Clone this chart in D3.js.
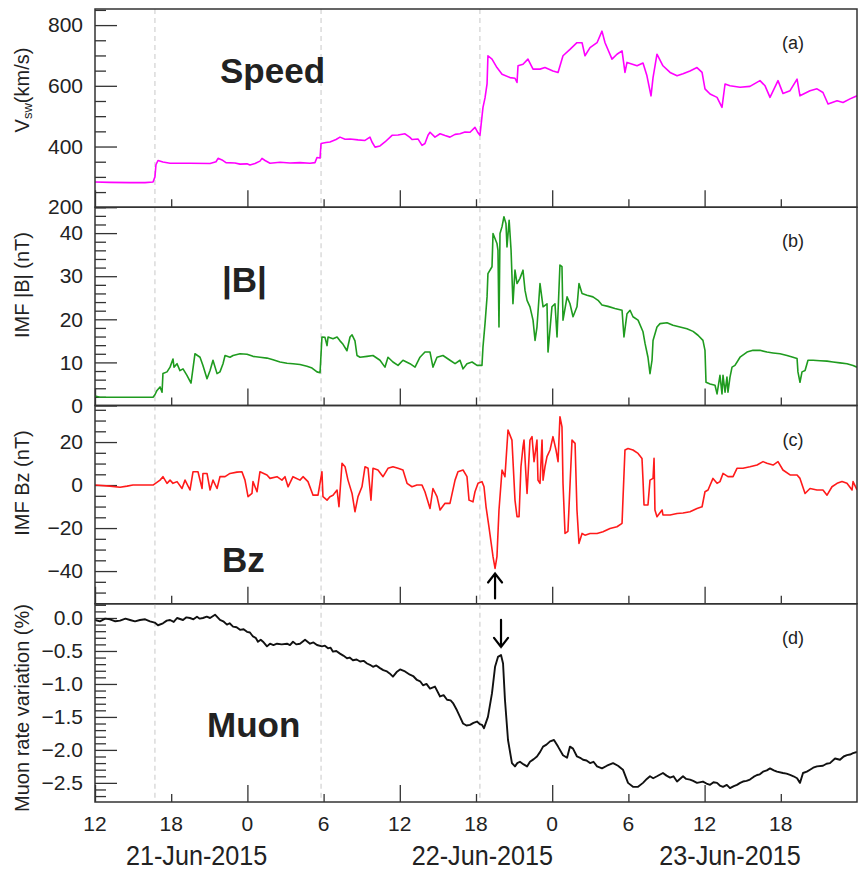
<!DOCTYPE html>
<html>
<head>
<meta charset="utf-8">
<script src="https://cdn.jsdelivr.net/npm/d3@7"></script>
<style>
  body { margin: 0; background: #fff; }
  svg { display: block; }
  text { font-family: "Liberation Sans", Arial, Helvetica, sans-serif; fill: #222; }
</style>
</head>
<body>
<svg id="chart" width="858" height="873"></svg>
<script>
// Time is given in hours counted from 21-Jun-2015 00:00 UT.

// (a) solar wind speed, km/s
const speed = [
  [12.00,283],[13.18,282],[14.76,281],[15.94,281],[16.57,283],[16.72,300],[16.80,340],[16.96,354],[17.35,349],[17.91,345],
  [19.48,345],[21.06,344],[21.53,350],[21.69,361],[22.00,356],[22.31,347],[23.02,346],[23.42,342],[23.97,343],[24.20,339],
  [24.60,344],[24.99,352],[25.15,361],[25.39,354],[25.78,345],[26.57,348],[27.35,346],[28.14,347],[28.93,345],[29.32,347],
  [29.48,364],[29.72,362],[29.80,410],[30.19,413],[30.50,415],[30.98,423],[31.29,431],[31.69,424],[32.08,425],[32.71,422],
  [33.26,420],[33.65,431],[33.81,415],[34.05,398],[34.44,402],[34.83,415],[35.39,437],[35.86,438],[36.41,442],[36.80,430],
  [36.96,423],[37.43,425],[37.75,404],[37.98,410],[38.22,437],[38.38,447],[38.77,431],[39.17,442],[39.56,436],[39.95,431],
  [40.35,440],[40.74,442],[41.13,448],[41.53,447],[41.92,463],[42.16,445],[42.31,437],[42.55,529],[42.71,560],[42.87,606],
  [42.94,699],[43.26,688],[43.65,660],[44.05,638],[44.68,627],[45.07,625],[45.23,611],[45.31,666],[45.70,671],[46.09,688],
  [46.49,655],[47.04,655],[47.43,660],[48.06,649],[48.46,644],[48.85,699],[49.40,720],[49.95,742],[50.35,742],[50.58,699],
  [50.98,726],[51.53,742],[51.92,780],[52.16,742],[52.71,688],[53.10,704],[53.50,715],[53.73,644],[53.89,677],[54.68,666],
  [55.15,675],[55.46,633],[55.78,567],[55.94,627],[56.25,704],[56.72,666],[57.28,644],[57.83,633],[58.30,640],[58.85,649],
  [59.40,660],[59.80,644],[60.03,590],[60.43,573],[60.98,562],[61.37,529],[61.61,606],[62.00,600],[62.79,595],[63.57,598],
  [64.36,617],[64.76,600],[65.15,562],[65.78,617],[66.17,575],[66.73,584],[67.28,622],[67.51,567],[68.30,584],[68.85,590],
  [69.32,578],[69.72,540],[70.43,551],[70.90,545],[71.45,557],[72.00,567]
];

// (b) IMF magnitude |B|, nT
const bTotal = [
  [12.00,2.2],[12.39,1.9],[14.76,1.9],[16.57,1.9],[16.72,2.5],[16.88,3.5],[17.12,4.3],[17.28,3.1],[17.35,7.4],[17.67,7.8],
  [17.91,8.9],[18.14,10.8],[18.22,8.9],[18.46,9.7],[18.69,8.1],[18.93,8.5],[19.24,7.0],[19.56,5.2],[19.87,12.0],[20.27,11.2],
  [20.50,9.3],[20.82,6.2],[21.06,8.1],[21.29,10.5],[21.61,7.4],[21.84,7.8],[22.08,9.7],[22.24,11.6],[22.63,11.2],[22.87,11.6],
  [23.42,12.0],[23.97,11.9],[24.44,11.4],[24.99,11.2],[25.54,11.0],[26.02,10.6],[26.57,10.1],[27.12,9.8],[27.59,9.7],[28.14,9.5],
  [28.69,9.1],[29.09,8.7],[29.48,7.8],[29.72,7.6],[29.87,15.9],[30.11,15.8],[30.27,13.9],[30.35,15.9],[30.74,15.5],[31.06,15.9],
  [31.29,15.0],[31.53,14.2],[31.84,12.7],[32.08,15.9],[32.24,16.4],[32.47,15.0],[32.63,11.6],[32.87,11.2],[33.42,11.4],[33.89,11.6],
  [34.44,10.5],[34.83,8.9],[35.07,11.2],[35.46,10.1],[35.86,9.3],[36.25,10.5],[36.80,9.7],[37.20,8.9],[37.59,11.2],[37.98,12.4],
  [38.38,12.4],[38.61,8.9],[38.93,11.2],[39.40,11.6],[39.95,10.5],[40.35,9.7],[40.74,10.5],[40.98,8.5],[41.29,9.7],[41.69,10.1],
  [42.08,9.3],[42.47,9.3],[42.55,13.6],[42.71,19.0],[42.87,25.2],[42.94,30.6],[43.26,32.2],[43.34,39.9],[43.65,37.6],[43.73,36.0],
  [43.81,18.2],[43.89,39.9],[44.05,41.5],[44.20,43.8],[44.36,42.2],[44.44,36.8],[44.61,43.0],[44.76,36.1],[44.91,23.6],[45.07,31.4],
  [45.23,28.3],[45.46,29.5],[45.70,31.4],[45.86,26.7],[46.02,24.4],[46.25,22.9],[46.49,19.8],[46.65,15.1],[46.80,18.2],[47.04,28.3],
  [47.28,22.9],[47.59,23.6],[47.67,12.4],[47.98,22.9],[48.22,23.6],[48.38,15.9],[48.61,32.6],[48.77,32.2],[48.85,19.8],[49.17,25.2],
  [49.40,23.6],[49.64,20.6],[49.95,22.9],[50.11,28.3],[50.35,26.0],[50.74,25.6],[51.21,25.2],[51.61,24.4],[51.92,23.3],[52.39,23.0],
  [52.94,22.5],[53.50,22.1],[53.65,15.9],[53.89,21.3],[54.13,22.1],[54.36,20.6],[54.76,19.8],[55.15,17.1],[55.31,14.4],[55.54,11.2],
  [55.70,7.4],[55.86,10.5],[55.94,15.1],[56.25,18.2],[56.49,19.0],[57.04,19.2],[57.51,18.6],[58.06,18.2],[58.61,17.8],[59.09,17.2],
  [59.48,16.3],[59.87,15.1],[60.03,12.8],[60.11,5.4],[60.43,5.0],[60.82,4.7],[60.98,2.7],[61.21,7.0],[61.37,2.7],[61.45,7.0],
  [61.61,3.1],[61.76,6.6],[61.84,3.1],[62.00,6.6],[62.16,8.9],[62.39,9.3],[62.79,11.2],[63.34,12.4],[63.81,12.8],[64.36,12.8],
  [64.91,12.4],[65.39,12.2],[65.94,12.0],[66.49,11.6],[66.96,11.2],[67.28,10.9],[67.35,7.8],[67.51,5.4],[67.67,7.8],[67.91,8.1],
  [68.14,10.5],[68.54,10.5],[69.09,10.4],[69.64,10.3],[70.11,10.1],[70.66,9.9],[71.21,9.7],[71.69,9.3],[72.00,8.9]
];

// (c) IMF Bz, nT
const bz = [
  [12.00,0.0],[13.18,-0.5],[13.97,-1.0],[14.52,-0.5],[14.99,0.0],[16.57,0.0],[17.12,2.3],[17.35,3.9],[17.67,0.8],[17.91,2.3],
  [18.14,0.8],[18.46,1.6],[18.85,-1.6],[19.09,2.3],[19.48,-2.3],[19.72,6.2],[20.11,6.2],[20.43,-1.6],[20.50,5.4],[20.82,5.4],
  [21.06,-2.3],[21.29,2.3],[21.61,-1.6],[21.84,3.9],[22.24,3.9],[22.63,5.4],[23.18,6.0],[23.57,6.2],[23.81,2.3],[24.05,-5.4],
  [24.36,-3.9],[24.44,1.6],[24.76,-3.1],[24.99,6.2],[25.54,4.7],[25.78,3.1],[26.33,3.9],[26.72,2.3],[26.96,3.9],[27.20,-0.8],
  [27.59,3.9],[28.14,2.3],[28.38,3.9],[28.77,1.6],[29.17,-4.7],[29.56,-4.7],[29.87,6.2],[29.95,-5.4],[30.27,-7.0],[30.50,-5.4],
  [30.74,-4.7],[31.06,-2.3],[31.21,-10.1],[31.45,10.1],[31.69,8.5],[31.92,2.3],[32.24,-3.9],[32.47,-12.4],[32.71,-5.4],[33.02,-0.8],
  [33.26,8.5],[33.50,7.8],[33.73,-7.0],[33.89,7.8],[34.28,7.0],[34.68,3.9],[35.07,7.8],[35.46,8.5],[35.86,7.8],[36.25,7.0],
  [36.57,0.8],[36.96,-0.8],[37.35,0.0],[37.75,0.0],[37.98,-3.1],[38.38,-10.9],[38.61,-1.6],[38.93,-5.4],[39.17,-11.6],[39.56,-8.5],
  [39.95,-8.5],[40.35,2.3],[40.58,6.2],[40.98,7.0],[41.29,3.9],[41.45,-7.0],[41.76,-7.8],[41.92,-3.1],[42.16,0.8],[42.47,1.6],
  [42.63,-0.8],[42.79,-10.1],[43.02,-19.4],[43.34,-33.3],[43.50,-38.8],[43.65,-33.3],[43.81,-11.6],[44.05,7.0],[44.28,3.9],[44.52,25.6],
  [44.83,20.9],[45.07,-7.0],[45.23,-14.7],[45.39,-14.7],[45.54,8.5],[45.70,17.8],[45.78,20.9],[45.94,3.9],[46.02,-3.9],[46.25,20.9],
  [46.41,22.5],[46.57,10.9],[46.80,20.9],[46.88,2.3],[47.04,0.8],[47.20,20.9],[47.28,2.3],[47.43,8.5],[47.59,13.2],[47.83,16.3],
  [48.06,22.5],[48.30,16.3],[48.46,10.9],[48.61,31.8],[48.77,27.1],[48.85,0.8],[49.01,-22.5],[49.24,-21.5],[49.56,20.9],[49.80,19.4],
  [49.95,-11.6],[50.11,-27.1],[50.35,-22.5],[50.58,-23.3],[50.98,-22.5],[51.53,-22.5],[52.00,-21.7],[52.55,-20.2],[53.10,-19.4],[53.50,-17.8],
  [53.57,-7.0],[53.73,16.3],[53.97,17.0],[54.36,16.3],[54.76,14.7],[55.07,12.4],[55.15,2.3],[55.23,-9.3],[55.54,-9.3],[55.70,2.3],
  [55.94,3.1],[56.02,12.4],[56.09,-11.6],[56.25,-14.7],[56.65,-11.6],[56.72,-13.9],[57.28,-13.9],[57.83,-13.2],[58.30,-13.0],[58.85,-12.4],
  [59.40,-10.9],[59.80,-10.1],[60.03,-3.1],[60.27,-2.3],[60.66,3.1],[60.98,0.8],[61.21,1.6],[61.45,5.4],[61.84,3.9],[62.24,3.9],
  [62.55,7.8],[63.02,7.8],[63.57,8.5],[64.13,9.3],[64.60,10.9],[64.91,10.1],[65.39,9.3],[65.78,10.9],[66.17,7.0],[66.73,4.7],
  [67.28,4.7],[67.51,3.1],[67.91,-3.9],[68.30,-1.6],[68.85,-2.3],[69.32,-2.3],[69.64,-4.7],[70.03,-0.8],[70.43,0.8],[70.82,1.6],
  [71.21,0.8],[71.61,-2.3],[71.69,1.6],[72.00,-2.3]
];

// (d) muon count rate variation, %
const muon = [
  [12.00,-0.03],[12.39,-0.05],[12.80,-0.01],[13.18,-0.02],[13.60,-0.05],[13.97,-0.04],[14.40,-0.01],[14.76,-0.03],[15.15,-0.05],[15.54,-0.03],
  [15.95,-0.02],[16.33,-0.05],[16.70,-0.07],[16.96,-0.11],[17.35,-0.08],[17.65,-0.04],[17.91,-0.03],[18.20,-0.06],[18.46,0.00],[18.93,-0.03],
  [19.20,0.01],[19.48,0.00],[19.75,-0.02],[20.03,0.02],[20.25,-0.01],[20.50,0.00],[20.80,0.02],[21.06,0.00],[21.45,0.05],[21.84,-0.03],
  [22.10,-0.05],[22.39,-0.10],[22.60,-0.08],[22.87,-0.13],[23.15,-0.14],[23.42,-0.18],[23.70,-0.17],[23.97,-0.21],[24.20,-0.22],[24.44,-0.28],
  [24.65,-0.30],[24.83,-0.36],[25.05,-0.33],[25.23,-0.36],[25.54,-0.43],[25.78,-0.39],[26.05,-0.41],[26.33,-0.39],[26.70,-0.40],[27.12,-0.39],
  [27.35,-0.41],[27.59,-0.36],[27.85,-0.40],[28.14,-0.39],[28.54,-0.33],[28.93,-0.39],[29.20,-0.37],[29.48,-0.41],[29.87,-0.43],[30.10,-0.42],
  [30.35,-0.46],[30.55,-0.45],[30.74,-0.51],[31.00,-0.50],[31.29,-0.54],[31.55,-0.57],[31.84,-0.61],[32.05,-0.60],[32.31,-0.64],[32.60,-0.63],
  [32.87,-0.66],[33.15,-0.65],[33.42,-0.69],[33.65,-0.71],[33.89,-0.74],[34.15,-0.72],[34.44,-0.76],[34.70,-0.79],[34.99,-0.81],[35.20,-0.84],
  [35.46,-0.89],[35.75,-0.82],[36.02,-0.78],[36.41,-0.81],[36.80,-0.86],[37.05,-0.88],[37.35,-0.94],[37.60,-0.96],[37.83,-1.02],[38.10,-1.00],
  [38.38,-1.07],[38.77,-1.04],[39.17,-1.19],[39.45,-1.17],[39.72,-1.24],[40.00,-1.25],[40.19,-1.29],[40.50,-1.40],[40.74,-1.50],[40.98,-1.60],
  [41.25,-1.63],[41.53,-1.62],[41.80,-1.59],[42.08,-1.57],[42.30,-1.61],[42.47,-1.62],[42.63,-1.67],[42.94,-1.50],[43.26,-1.14],[43.50,-0.74],
  [43.73,-0.59],[43.97,-0.56],[44.13,-0.69],[44.28,-1.24],[44.52,-1.85],[44.83,-2.20],[45.07,-2.25],[45.25,-2.20],[45.46,-2.18],[45.75,-2.22],
  [46.02,-2.25],[46.25,-2.18],[46.55,-2.14],[46.80,-2.10],[47.05,-2.03],[47.28,-1.95],[47.55,-1.92],[47.83,-1.87],[48.14,-1.85],[48.46,-1.95],
  [48.85,-2.08],[49.17,-2.12],[49.40,-1.95],[49.64,-1.98],[49.95,-2.10],[50.20,-2.12],[50.43,-2.15],[50.70,-2.16],[50.98,-2.20],[51.25,-2.18],
  [51.53,-2.25],[51.92,-2.28],[52.31,-2.24],[52.55,-2.22],[52.79,-2.20],[53.18,-2.24],[53.57,-2.30],[53.97,-2.50],[54.36,-2.56],[54.76,-2.56],
  [55.15,-2.50],[55.45,-2.44],[55.70,-2.40],[55.95,-2.43],[56.25,-2.40],[56.72,-2.35],[57.00,-2.39],[57.28,-2.42],[57.55,-2.40],[57.83,-2.48],
  [58.30,-2.40],[58.55,-2.44],[58.85,-2.45],[59.10,-2.47],[59.40,-2.50],[59.87,-2.48],[60.15,-2.51],[60.43,-2.53],[60.70,-2.49],[60.98,-2.50],
  [61.20,-2.54],[61.45,-2.56],[61.75,-2.53],[62.00,-2.58],[62.30,-2.55],[62.55,-2.53],[62.80,-2.50],[63.02,-2.48],[63.30,-2.47],[63.57,-2.45],
  [63.85,-2.41],[64.13,-2.38],[64.35,-2.37],[64.60,-2.33],[64.90,-2.31],[65.15,-2.28],[65.45,-2.31],[65.70,-2.33],[66.17,-2.35],[66.45,-2.36],
  [66.73,-2.38],[67.00,-2.40],[67.28,-2.43],[67.51,-2.50],[67.75,-2.35],[68.05,-2.33],[68.30,-2.30],[68.55,-2.27],[68.85,-2.25],[69.32,-2.24],
  [69.60,-2.21],[69.87,-2.20],[70.27,-2.13],[70.66,-2.15],[70.95,-2.10],[71.21,-2.08],[71.45,-2.07],[71.69,-2.05],[72.00,-2.03]
];

// Shock / discontinuity times marked with dashed lines (hours)
const eventHours = [16.72, 29.80, 42.31];
// Hour-of-day tick marks along the time axis (hours)
const timeTickHours = [12, 18, 24, 30, 36, 42, 48, 54, 60, 66];
// Day captions under the time axis
const dayLabels = ["21-Jun-2015", "22-Jun-2015", "23-Jun-2015"];
const dayLabelHours = [20.0, 42.5, 62.0];

const t0 = Date.UTC(2015, 5, 21);
const toDate = h => new Date(t0 + h * 3600e3);

const svg = d3.select("#chart");
const plotLeft = 95, plotRight = 857, plotTop = 9, panelH = 198.25;
const frameColor = "#333";

const x = d3.scaleUtc().domain([toDate(12), toDate(72)]).range([plotLeft, plotRight]);

const panels = [
  { id: "a", data: speed, color: "#ff00ff", width: 1.6, domain: [200, 853], major: [200, 400, 600, 800],
    minorStep: 50, fmt: d => d3.format("d")(d), tag: "Speed", tagX: 220, tagY: 83 },
  { id: "b", data: bTotal, color: "#1f9b1f", width: 1.6, domain: [0, 46], major: [0, 10, 20, 30, 40],
    minorStep: 2, fmt: d => d3.format("d")(d), tag: "|B|", tagX: 222, tagY: 292 },
  { id: "c", data: bz, color: "#ff1a1a", width: 1.6, domain: [-55.2, 37], major: [-40, -20, 0, 20],
    minorStep: 5, fmt: d => d3.format("d")(d).replace("-", "\u2212"), tag: "Bz", tagX: 222, tagY: 572 },
  { id: "d", data: muon, color: "#111", width: 1.9, domain: [-2.79, 0.216], major: [0, -0.5, -1, -1.5, -2, -2.5],
    minorStep: 0.1, fmt: d => d3.format(".1f")(d).replace("-", "\u2212"), tag: "Muon", tagX: 207, tagY: 737 }
];

panels.forEach((p, i) => {
  const y0 = plotTop + i * panelH, y1 = y0 + panelH;
  p.y0 = y0; p.y1 = y1;
  p.y = d3.scaleLinear().domain(p.domain).range([y1, y0]);

  const clipId = "clip-" + p.id;
  svg.append("clipPath").attr("id", clipId)
    .append("rect").attr("x", plotLeft).attr("y", y0).attr("width", plotRight - plotLeft).attr("height", panelH);

  // dashed event markers
  svg.append("g").selectAll("line").data(eventHours).join("line")
    .attr("x1", d => x(toDate(d))).attr("x2", d => x(toDate(d)))
    .attr("y1", y0).attr("y2", y1)
    .attr("stroke", "#c8c8c8").attr("stroke-width", 1).attr("stroke-dasharray", "5,4");

  // minor y ticks
  const lo = Math.ceil(p.domain[0] / p.minorStep - 1e-6), hi = Math.floor(p.domain[1] / p.minorStep + 1e-6);
  const minor = d3.range(lo, hi + 1).map(k => +(k * p.minorStep).toFixed(3))
    .filter(v => !p.major.some(m => Math.abs(m - v) < 1e-6));
  const minorAxis = svg.append("g").attr("transform", `translate(${plotLeft},0)`)
    .call(d3.axisLeft(p.y).tickValues(minor).tickSize(-11).tickFormat(""));
  minorAxis.select(".domain").remove();
  minorAxis.selectAll("line").attr("stroke", frameColor).attr("stroke-width", 1.3);

  // major y ticks with labels
  const majorAxis = svg.append("g").attr("transform", `translate(${plotLeft},0)`)
    .call(d3.axisLeft(p.y).tickValues(p.major).tickSize(-22).tickPadding(12).tickFormat(p.fmt));
  majorAxis.select(".domain").remove();
  majorAxis.selectAll("line").attr("stroke", frameColor).attr("stroke-width", 1.3);
  majorAxis.selectAll("text").attr("font-size", 21).attr("fill", "#222")
    .attr("font-family", "'Liberation Sans', Arial, sans-serif");

  // time ticks along the bottom of each panel
  const longTicks = timeTickHours.filter(h => h % 12 === 0);
  const shortTicks = timeTickHours.filter(h => h % 12 !== 0);
  [[longTicks, -17], [shortTicks, -8]].forEach(([vals, size]) => {
    const g = svg.append("g").attr("transform", `translate(0,${y1})`)
      .call(d3.axisBottom(x).tickValues(vals.map(toDate)).tickSize(size).tickFormat(""));
    g.select(".domain").remove();
    g.selectAll("line").attr("stroke", frameColor).attr("stroke-width", 1.3);
  });

  // data trace
  const line = d3.line().x(d => x(toDate(d[0]))).y(d => p.y(d[1]));
  svg.append("path").datum(p.data)
    .attr("clip-path", `url(#${clipId})`)
    .attr("d", line).attr("fill", "none")
    .attr("stroke", p.color).attr("stroke-width", p.width).attr("stroke-linejoin", "round");

  // frame
  svg.append("rect").attr("x", plotLeft).attr("y", y0).attr("width", plotRight - plotLeft).attr("height", panelH)
    .attr("fill", "none").attr("stroke", frameColor).attr("stroke-width", 1.5);

  // panel letter
  svg.append("text").attr("x", 793).attr("y", y0 + 34).attr("text-anchor", "middle")
    .attr("dominant-baseline", "central").attr("font-size", 18).attr("fill", "#333")
    .text(`(${p.id})`);

  // quantity tag
  svg.append("text").attr("x", p.tagX).attr("y", p.tagY)
    .attr("font-size", 35).attr("font-weight", "bold").attr("fill", "#000")
    .text(p.tag);
});

// y-axis titles
const titleX = 22;
const tA = svg.append("text").attr("transform", `translate(${titleX},90) rotate(-90)`)
  .attr("text-anchor", "middle").attr("dominant-baseline", "central").attr("font-size", 20);
tA.append("tspan").text("V");
tA.append("tspan").attr("font-size", 13).attr("dy", 5).text("sw");
tA.append("tspan").attr("dy", -5).text("(km/s)");

[["IMF |B| (nT)", 285], ["IMF Bz (nT)", 483], ["Muon rate variation (%)", 708]].forEach(([t, cy]) => {
  svg.append("text").attr("transform", `translate(${titleX},${cy}) rotate(-90)`)
    .attr("text-anchor", "middle").attr("dominant-baseline", "central").attr("font-size", 20)
    .text(t);
});

// hour labels under the bottom panel
const bottomY = panels[3].y1;
svg.append("g").selectAll("text").data(timeTickHours).join("text")
  .attr("x", d => x(toDate(d))).attr("y", bottomY + 29)
  .attr("text-anchor", "middle").attr("font-size", 21)
  .text(d => String(d % 24));

// day captions
svg.append("g").selectAll("text").data(dayLabels).join("text")
  .attr("transform", (d, i) => `translate(${x(toDate(dayLabelHours[i]))},${bottomY + 63}) scale(0.9,1)`)
  .attr("text-anchor", "middle").attr("font-size", 28)
  .text(d => d);

// arrows: up to the Bz minimum, down to the muon peak after the shock
const bzMin = d3.least(bz, d => d[1]);
const muPeak = d3.greatest(muon.filter(d => d[0] > 42 && d[0] < 46), d => d[1]);
function arrow(xp, tipY, tailY) {
  const dir = Math.sign(tailY - tipY);
  const path = d3.path();
  path.moveTo(xp, tailY); path.lineTo(xp, tipY);
  path.moveTo(xp - 7, tipY + dir * 9); path.lineTo(xp, tipY); path.lineTo(xp + 7, tipY + dir * 9);
  svg.append("path").attr("d", path.toString()).attr("fill", "none")
    .attr("stroke", "#000").attr("stroke-width", 2.2).attr("stroke-linecap", "round");
}
const pc = panels[2], pd = panels[3];
arrow(x(toDate(bzMin[0])), pc.y(bzMin[1]) + 5, pc.y(bzMin[1]) + 30);
arrow(x(toDate(muPeak[0])), pd.y(muPeak[1]) - 8, pd.y(muPeak[1]) - 35);
</script>
</body>
</html>
